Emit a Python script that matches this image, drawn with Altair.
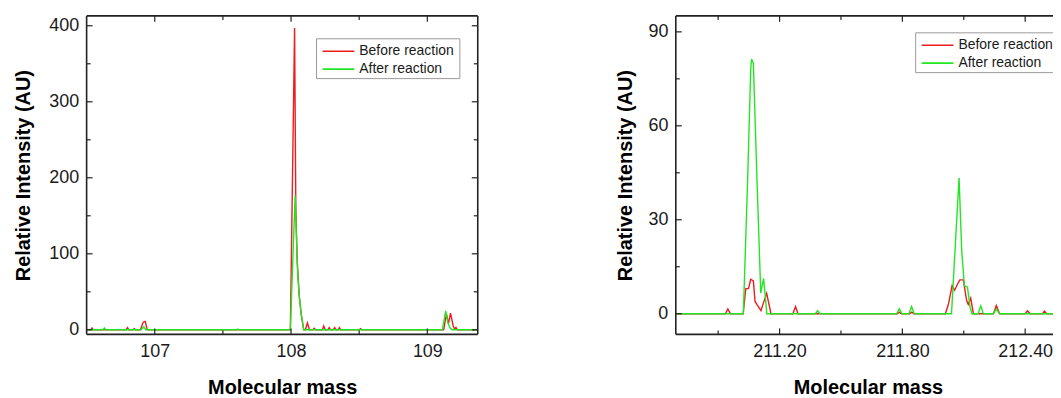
import altair as alt
import pandas as pd

FONT = "Liberation Sans"
RED = "#ee1c1c"
GREEN = "#22e622"
FRAME = "#222222"

series_labels = ["Before reaction", "After reaction"]
x_title = "Molecular mass"
y_title = "Relative Intensity  (AU)"

# ---------------- left panel (m ~ 108) ----------------
left_before_mass = [106.48, 106.53, 106.54, 106.55, 106.79, 106.80, 106.81, 106.84, 106.85, 106.86,
                    106.895, 106.915, 106.93, 106.945, 107.995, 108.026, 108.035, 108.045, 108.06,
                    108.075, 108.093, 108.105, 108.12, 108.135, 108.16, 108.17, 108.18, 108.23, 108.24,
                    108.25, 108.27, 108.28, 108.29, 108.31, 108.32, 108.33, 108.345, 108.355, 108.365,
                    108.50, 108.51, 108.52, 109.12, 109.14, 109.155, 109.17, 109.19, 109.20, 109.21,
                    109.22, 109.40]
left_before_int = [0, 0, 2.5, 0, 0, 3, 0, 0, 1.5, 0,
                   0, 10, 11, 0, 0, 397, 160, 90, 45,
                   20, 0, 0, 9, 0, 0, 2, 0, 0, 5,
                   0, 0, 3, 0, 0, 3, 0, 0, 3, 0,
                   0, 1.5, 0, 0, 21, 8, 22, 5, 1, 3,
                   0, 0]
left_after_mass = [106.48, 106.62, 106.63, 106.64, 106.90, 106.92, 106.935, 107.60, 107.61, 107.62,
                   107.995, 108.03, 108.04, 108.05, 108.06, 108.075, 108.093, 109.11, 109.135,
                   109.15, 109.165, 109.18, 109.40]
left_after_int = [0, 0, 2.5, 0, 0, 4, 0, 0, 1, 0,
                  0, 177, 120, 70, 45, 20, 0, 0, 25,
                  10, 3, 0, 0]
left_x_domain = [106.5, 109.37]
left_y_domain = [-6, 413]
left_x_major = [107, 108, 109]
left_x_minor = [107.5, 108.5]
left_y_major = [0, 100, 200, 300, 400]
left_y_minor = [50, 150, 250, 350]

# ---------------- right panel (m ~ 211-212) ----------------
right_before_mass = [210.67, 210.935, 210.947, 210.96, 211.022, 211.035, 211.048, 211.059, 211.072,
                     211.08, 211.089, 211.109, 211.137, 211.158, 211.265, 211.278, 211.29, 211.775,
                     211.785, 211.795, 211.836, 211.846, 211.856, 212.01, 212.025, 212.043, 212.055,
                     212.07, 212.081, 212.098, 212.114, 212.122, 212.134, 212.147, 212.245, 212.259,
                     212.275, 212.40, 212.411, 212.425, 212.485, 212.494, 212.505, 212.60]
right_before_int = [0, 0, 1.5, 0, 0, 8, 8, 11, 10.5,
                    4, 3, 1, 6.5, 0, 0, 2.3, 0, 0,
                    0.5, 0, 0, 0.5, 0, 0, 3, 9, 7.5,
                    9.5, 10.8, 10.8, 4.2, 3, 5, 0, 0, 2.6,
                    0, 0, 0.9, 0, 0, 0.8, 0, 0]
right_after_mass = [210.67, 211.023, 211.045, 211.059, 211.063, 211.072, 211.09, 211.108, 211.122,
                    211.138, 211.375, 211.386, 211.397, 211.772, 211.785, 211.798, 211.832, 211.845,
                    211.858, 212.04, 212.077, 212.09, 212.103, 212.118, 212.131, 212.14, 212.17,
                    212.183, 212.196, 212.245, 212.259, 212.275, 212.60]
right_after_int = [0, 0, 45, 78, 81.3, 80, 42, 6.6, 11.3,
                   0, 0, 1, 0, 0, 1.6, 0, 0, 2.3,
                   0, 0, 43.4, 20, 9, 8.5, 2, 0, 0,
                   2.5, 0, 0, 1.5, 0, 0]
right_x_domain = [210.693, 212.57]
right_y_domain = [-6.6, 95.1]
right_x_major = [211.2, 211.8, 212.4]
right_x_minor = [210.9, 211.5, 212.1]
right_y_major = [0, 30, 60, 90]
right_y_minor = [15, 45, 75]

H = 320
MAJ = 6
MIN = 4


def panel(bm, bi, am, ai, xdom, ydom, xmaj, xmin, ymaj, ymin, W, xfmt,
          leg_x, leg_y, right_border, ytp):
    xs = alt.Scale(domain=xdom, nice=False, zero=False)
    ys = alt.Scale(domain=ydom, nice=False, zero=False)
    xax = alt.Axis(values=xmaj, format=xfmt, title=x_title,
                   labelFontSize=18, labelPadding=8, titlePadding=17)
    yax = alt.Axis(values=ymaj, format="d", title=y_title,
                   labelFontSize=18, labelPadding=8, titlePadding=ytp)
    X = alt.X("m:Q", scale=xs, axis=xax)
    Y = alt.Y("i:Q", scale=ys, axis=yax)
    before = pd.DataFrame({"m": bm, "i": bi})
    after = pd.DataFrame({"m": am, "i": ai})

    layers = []
    layers.append(alt.Chart(before).mark_line(color=RED, strokeWidth=1.4, clip=True).encode(x=X, y=Y))
    layers.append(alt.Chart(after).mark_line(color=GREEN, strokeWidth=1.4, clip=True).encode(x=X, y=Y))

    def xt(vals, ln, top):
        d = pd.DataFrame({"m": vals})
        return alt.Chart(d).mark_rule(color=FRAME, strokeWidth=1.2).encode(
            x=X, y=alt.value(0 if top else H), y2=alt.value(ln if top else H - ln))

    def yt(vals, ln, right):
        d = pd.DataFrame({"i": vals})
        return alt.Chart(d).mark_rule(color=FRAME, strokeWidth=1.2).encode(
            y=Y, x=alt.value(W if right else 0), x2=alt.value(W - ln if right else ln))

    for top in (False, True):
        layers.append(xt(xmaj, MAJ, top))
        layers.append(xt(xmin, MIN, top))
    layers.append(yt(ymaj, MAJ, False))
    layers.append(yt(ymin, MIN, False))
    if right_border:
        layers.append(yt(ymaj, MAJ, True))
        layers.append(yt(ymin, MIN, True))

    dummy = pd.DataFrame({"a": [0]})
    fr = alt.Chart(dummy).mark_rule(color=FRAME, strokeWidth=1.6)
    layers.append(fr.encode(x=alt.value(0), x2=alt.value(W), y=alt.value(0)))
    layers.append(fr.encode(x=alt.value(0), x2=alt.value(W), y=alt.value(H)))
    layers.append(fr.encode(x=alt.value(0), y=alt.value(0), y2=alt.value(H)))
    if right_border:
        layers.append(fr.encode(x=alt.value(W), y=alt.value(0), y2=alt.value(H)))

    # legend
    bw, bh = 144, 40
    layers.append(alt.Chart(dummy).mark_rect(fill="white", stroke="#9a9a9a", strokeWidth=1).encode(
        x=alt.value(leg_x), x2=alt.value(leg_x + bw), y=alt.value(leg_y), y2=alt.value(leg_y + bh)))
    for k, (lab, col) in enumerate(zip(series_labels, [RED, GREEN])):
        yy = leg_y + 12.5 + 18 * k
        layers.append(alt.Chart(dummy).mark_rule(color=col, strokeWidth=1.6).encode(
            x=alt.value(leg_x + 6), x2=alt.value(leg_x + 38), y=alt.value(yy)))
        layers.append(alt.Chart(dummy).mark_text(
            text=lab, font=FONT, fontSize=14, color="#1a1a1a", align="left", baseline="middle").encode(
            x=alt.value(leg_x + 43), y=alt.value(yy)))

    return alt.layer(*layers).properties(width=W, height=H)


left = panel(left_before_mass, left_before_int, left_after_mass, left_after_int,
             left_x_domain, left_y_domain, left_x_major, left_x_minor,
             left_y_major, left_y_minor, 393, "d", 231, 23, True, 15)
right = panel(right_before_mass, right_before_int, right_after_mass, right_after_int,
              right_x_domain, right_y_domain, right_x_major, right_x_minor,
              right_y_major, right_y_minor, 386, ".2f", 241, 17, False, 12)

chart = alt.hconcat(left, right, spacing=137).properties(
    padding={"left": 5, "top": 6, "right": -8, "bottom": 0}
).configure_view(stroke=None).configure_axis(
    labelFont=FONT, titleFont=FONT, labelColor="#1a1a1a", titleColor="#000000",
    titleFontSize=20, titleFontWeight="bold", domain=False, ticks=False, grid=False,
    labelFlush=False
)

chart.save("out.html", embed_options={"renderer": "svg", "actions": False})
